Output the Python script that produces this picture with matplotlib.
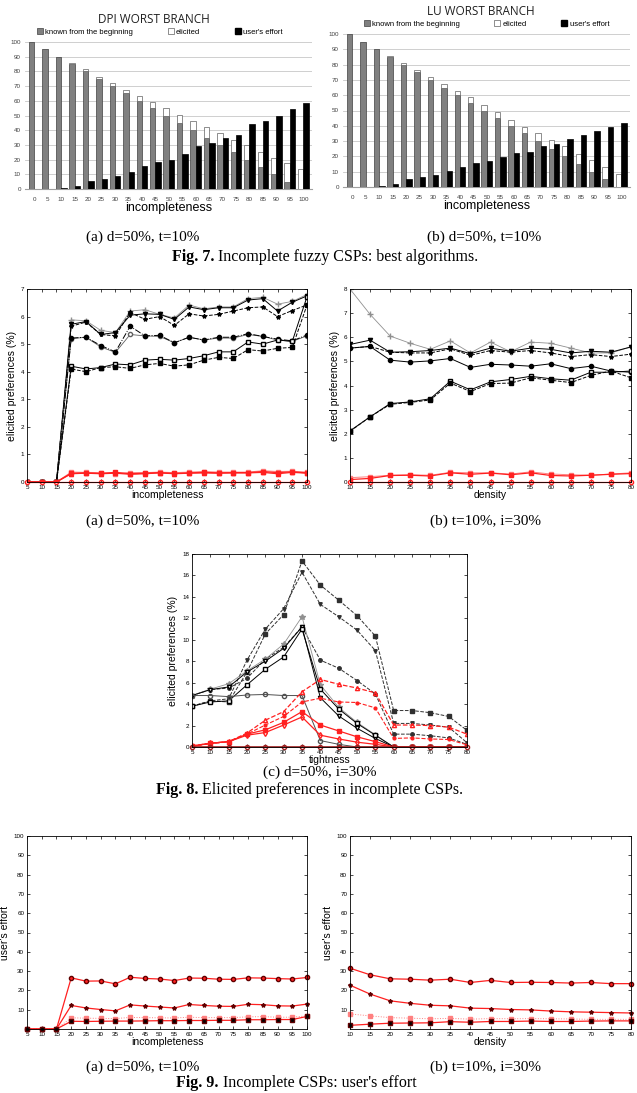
import numpy as np
import matplotlib
matplotlib.use("Agg")
import matplotlib.pyplot as plt
from matplotlib.patches import Patch

## Data
inc_bar = list(range(0, 105, 5))
dpi_known = [100, 95, 90, 85, 80, 75, 70, 65, 60, 55, 50, 45, 40, 35, 30, 25, 20, 15, 10, 5, 0]
dpi_elicited = [0, 0, 0, 0.5, 1.5, 1.5, 2, 2.5, 3.5, 4, 5, 5.5, 6.5, 7, 8, 8.5, 10, 10.5, 11, 12.5, 13.5]
dpi_effort = [0, 0.3, 1, 2, 5.5, 7, 9, 11.5, 15.5, 18.5, 20, 23.5, 29, 31.5, 34.5, 37, 44.5, 46.5, 49.5, 54.5, 58.5]
lu_known = dpi_known
lu_elicited = [0, 0, 0, 0.5, 1, 1.5, 2, 2.5, 2.5, 3.5, 3.5, 4, 4, 4.5, 5.5, 6, 6.5, 6.5, 7.5, 8, 8.5]
lu_effort = [0, 0, 0.7, 2, 5.5, 6.5, 8, 10.5, 13, 16, 17, 19.5, 22, 23, 26.5, 28, 31.5, 34, 36.5, 39, 42]

inc = list(range(5, 105, 5))
den = list(range(10, 85, 5))
tig = list(range(5, 85, 5))

# Fig 8a: elicited preferences vs incompleteness
e8a_plus = [0, 0, 0, 5.88, 5.85, 5.5, 5.42, 6.2, 6.25, 6.08, 5.95, 6.42, 6.28, 6.35, 6.35, 6.65, 6.7, 6.45, 6.55, 6.8]
e8a_tri = [0, 0, 0, 5.72, 5.82, 5.35, 5.42, 6.05, 6.1, 6.08, 5.9, 6.35, 6.25, 6.32, 6.32, 6.6, 6.65, 6.2, 6.52, 6.75]
e8a_star = [0, 0, 0, 5.65, 5.8, 5.35, 5.3, 6.15, 5.9, 6.0, 5.68, 6.1, 6.02, 6.08, 6.2, 6.32, 6.35, 6.0, 6.22, 6.42]
e8a_dot = [0, 0, 0, 5.22, 5.25, 4.95, 4.72, 5.65, 5.3, 5.32, 5.05, 5.25, 5.15, 5.25, 5.25, 5.38, 5.28, 5.18, 5.12, 5.33]
e8a_circ = [0, 0, 0, 5.2, 5.25, 4.9, 4.7, 5.35, 5.3, 5.28, 5.05, 5.25, 5.15, 5.22, 5.22, 5.35, 5.28, 5.15, 5.1, 5.3]
e8a_sqo = [0, 0, 0, 4.2, 4.1, 4.15, 4.28, 4.25, 4.42, 4.45, 4.42, 4.48, 4.58, 4.72, 4.72, 5.08, 5.0, 5.15, 5.1, 6.72]
e8a_sqf = [0, 0, 0, 4.1, 4.0, 4.15, 4.18, 4.12, 4.25, 4.3, 4.2, 4.25, 4.42, 4.52, 4.48, 4.8, 4.75, 4.85, 4.88, 6.42]
e8a_r1 = [0, 0, 0, 0.32, 0.33, 0.31, 0.35, 0.3, 0.32, 0.34, 0.31, 0.33, 0.35, 0.33, 0.34, 0.34, 0.38, 0.34, 0.37, 0.33]
e8a_r2 = [0, 0, 0, 0.3, 0.32, 0.3, 0.32, 0.28, 0.3, 0.33, 0.3, 0.32, 0.33, 0.32, 0.33, 0.33, 0.35, 0.3, 0.35, 0.32]
e8a_r3 = [0, 0, 0, 0.36, 0.35, 0.34, 0.3, 0.34, 0.34, 0.36, 0.34, 0.36, 0.38, 0.36, 0.36, 0.36, 0.41, 0.38, 0.39, 0.36]

# Fig 8b: elicited preferences vs density
e8b_plus = [8.0, 6.95, 6.05, 5.75, 5.5, 5.85, 5.35, 5.8, 5.4, 5.8, 5.75, 5.55, 5.35, 5.35, 5.6]
e8b_tri = [5.7, 5.88, 5.38, 5.4, 5.45, 5.55, 5.32, 5.55, 5.42, 5.55, 5.5, 5.35, 5.42, 5.38, 5.6]
e8b_star = [5.55, 5.62, 5.38, 5.35, 5.35, 5.52, 5.25, 5.45, 5.38, 5.45, 5.35, 5.2, 5.28, 5.2, 5.3]
e8b_dot = [5.55, 5.62, 5.05, 4.97, 5.02, 5.12, 4.75, 4.88, 4.85, 4.8, 4.9, 4.7, 4.8, 4.6, 4.55]
e8b_sqo = [2.12, 2.7, 3.25, 3.32, 3.45, 4.18, 3.82, 4.15, 4.25, 4.38, 4.28, 4.22, 4.55, 4.55, 4.6]
e8b_sqf = [2.1, 2.7, 3.22, 3.3, 3.4, 4.1, 3.75, 4.08, 4.1, 4.32, 4.22, 4.12, 4.42, 4.6, 4.32]
e8b_r1 = [0.1, 0.15, 0.27, 0.28, 0.25, 0.38, 0.32, 0.37, 0.3, 0.38, 0.27, 0.25, 0.28, 0.32, 0.35]
e8b_r2 = [0.18, 0.22, 0.28, 0.3, 0.28, 0.4, 0.38, 0.38, 0.33, 0.42, 0.33, 0.3, 0.28, 0.33, 0.38]

# Fig 8c: elicited preferences vs tightness
e8c_sqf = [3.8, 4.3, 4.2, 7.0, 10.55, 12.35, 17.35, 15.1, 13.7, 12.25, 10.35, 3.4, 3.4, 3.2, 2.85, 1.55]
e8c_trif = [3.8, 4.3, 4.5, 8.1, 11.0, 12.9, 16.3, 13.3, 12.15, 10.9, 9.0, 2.2, 2.2, 2.05, 1.85, 0.4]
e8c_dot = [4.8, 5.35, 5.5, 6.4, 8.2, 9.3, 11.2, 8.1, 7.35, 6.2, 4.95, 1.2, 1.2, 1.05, 0.85, 0.25]
e8c_plus = [4.8, 5.4, 5.9, 7.1, 8.2, 9.6, 12.15, 5.8, 3.7, 2.3, 1.15, 0, 0, 0, 0, 0]
e8c_trio = [4.8, 5.35, 5.6, 7.0, 8.0, 9.2, 11.2, 4.6, 2.9, 1.75, 0.8, 0, 0, 0, 0, 0]
e8c_sqo = [3.8, 4.2, 4.3, 5.8, 7.25, 8.4, 11.0, 5.4, 3.55, 2.2, 1.1, 0, 0, 0, 0, 0]
e8c_circ = [4.8, 4.8, 4.7, 4.85, 4.9, 4.8, 4.8, 0.6, 0.25, 0, 0, 0, 0, 0, 0, 0]
e8c_rtri = [0.1, 0.35, 0.5, 1.3, 2.5, 3.3, 5.15, 6.3, 5.85, 5.5, 5.05, 2.05, 2.05, 2.0, 1.85, 1.2]
e8c_rplus = [0.1, 0.3, 0.5, 1.2, 2.05, 2.85, 4.2, 4.55, 4.2, 4.15, 3.65, 0.8, 0.85, 0.75, 0.7, 0.2]
e8c_rsq = [0.1, 0.35, 0.5, 1.2, 1.6, 2.3, 3.3, 2.05, 1.5, 0.95, 0.5, 0, 0, 0, 0, 0]
e8c_rdia = [0.05, 0.35, 0.5, 1.1, 1.35, 2.05, 2.8, 1.1, 0.75, 0.45, 0.25, 0, 0, 0, 0, 0]

# Fig 9: user's effort
u9a_1 = [0, 0, 0, 26.5, 24.8, 24.9, 23.4, 26.8, 26.2, 25.9, 25.1, 26.4, 26.3, 25.8, 25.7, 26.5, 26.4, 26.1, 25.9, 26.7]
u9a_2 = [0, 0, 0, 12.2, 10.9, 10.1, 9.4, 12.5, 11.9, 11.4, 10.9, 12.7, 12.2, 11.8, 11.7, 12.8, 12.6, 12.0, 11.9, 12.9]
u9a_3 = [0, 0, 0, 5.8, 5.6, 5.5, 5.4, 6.0, 5.9, 5.8, 5.7, 6.1, 5.9, 5.9, 5.9, 6.3, 6.4, 6.1, 6.1, 6.8]
u9a_4 = [0, 0, 0, 4.0, 3.9, 4.0, 4.1, 4.1, 4.2, 4.3, 4.3, 4.4, 4.4, 4.5, 4.5, 4.8, 4.8, 4.9, 4.9, 6.5]
u9b_1 = [31.5, 28.1, 26.0, 25.8, 25.3, 25.8, 24.1, 25.2, 24.1, 24.2, 24.1, 23.8, 24.1, 23.5, 23.5]
u9b_2 = [22.7, 18.1, 14.6, 13.3, 12.3, 12.0, 10.8, 10.6, 10.1, 9.9, 9.3, 8.9, 8.7, 8.5, 8.3]
u9b_3 = [7.8, 6.8, 5.9, 5.6, 5.3, 5.5, 5.1, 5.4, 5.3, 5.4, 5.3, 5.2, 5.0, 5.0, 5.0]
u9b_4 = [1.9, 2.5, 3.0, 3.1, 3.2, 3.8, 3.5, 3.9, 3.9, 4.1, 3.9, 3.9, 4.1, 4.2, 4.2]

W, H = 637, 1093
fig = plt.figure(figsize=(W / 100, H / 100), dpi=100)
plt.rcParams['font.family'] = ['Liberation Sans', 'DejaVu Sans']
serif = ['Liberation Serif', 'DejaVu Serif']


def px_axes(l, t, r, b):
    return fig.add_axes([l / W, 1 - b / H, (r - l) / W, (b - t) / H])


def bar_chart(ax, title, known, elicited, effort, title_x, legend_x):
    x = np.arange(len(inc_bar))
    ax.bar(x - 0.2, known, 0.4, color='#808080', edgecolor='#404040', lw=0.5, zorder=3)
    ax.bar(x - 0.2, elicited, 0.4, bottom=known, color='white', edgecolor='#606060', lw=0.5, zorder=3)
    ax.bar(x + 0.2, effort, 0.4, color='black', edgecolor='black', lw=0.5, zorder=3)
    ax.set_xlim(-0.7, len(x) - 0.35)
    ax.set_ylim(0, 100)
    ax.set_yticks(range(0, 101, 10))
    ax.set_xticks(x)
    ax.set_xticklabels([str(v) for v in inc_bar])
    ax.yaxis.grid(True, color='#c8c8c8', lw=0.6, zorder=0)
    for s in ['top', 'right', 'left']:
        ax.spines[s].set_visible(False)
    ax.spines['bottom'].set_color('#a0a0a0')
    ax.tick_params(length=0, labelsize=4.5, colors='#404040', pad=3)
    ax.tick_params(axis='x', pad=6)
    ax.set_title(title, fontsize=8.5, family=['Open Sans', 'DejaVu Sans'], pad=14,
                 color='#202020', x=title_x)
    handles = [Patch(facecolor='#808080', edgecolor='#404040', lw=0.5),
               Patch(facecolor='white', edgecolor='#606060', lw=0.5),
               Patch(facecolor='black', edgecolor='black')]
    ax.legend(handles, ['known from the beginning', 'elicited', "user's effort"], ncol=3,
              loc='lower center', bbox_to_anchor=(legend_x, 1.02), frameon=False, fontsize=5.5,
              handlelength=0.8, handleheight=0.8, handletextpad=0.3, columnspacing=4.5,
              borderaxespad=0)
    ax.set_xlabel('incompleteness', fontsize=9, labelpad=0)


def gnu_axes(ax, xs, ymax, ystep, ylabel, xlabel, yticks_from=0):
    ax.set_xlim(xs[0], xs[-1])
    ax.set_ylim(0, ymax)
    ax.set_xticks(xs)
    ax.set_yticks(np.arange(yticks_from, ymax + 0.01, ystep))
    ax.tick_params(direction='in', top=True, right=True, length=2.5, width=0.5,
                   labelsize=4.5, pad=2)
    for s in ax.spines.values():
        s.set_linewidth(0.6)
    ax.set_ylabel(ylabel, fontsize=7.5, labelpad=3)
    ax.set_xlabel(xlabel, fontsize=7.5, labelpad=0.5)


# Fig 7
ax = px_axes(25, 42, 312, 189)
bar_chart(ax, 'DPI WORST BRANCH', dpi_known, dpi_elicited, dpi_effort, 0.45, 0.47)
ax = px_axes(343, 34, 630, 187)
bar_chart(ax, 'LU WORST BRANCH', lu_known, lu_elicited, lu_effort, 0.48, 0.5)

blk = dict(color='black', lw=0.7, ms=3)
gry = dict(color='#909090', lw=0.6, ms=4)
red = dict(color='#ff2020', lw=0.9, ms=3)
redl = dict(color='#ff8080', lw=0.7, ms=3)

# Fig 8a
ax = px_axes(27, 289, 307, 482)
ax.plot(inc, e8a_plus, marker='+', **gry)
ax.plot(inc, e8a_tri, marker='v', **blk)
ax.plot(inc, e8a_star, marker='*', ls='--', **blk)
ax.plot(inc, e8a_circ, marker='o', mfc='white', color='#606060', lw=0.6, ms=3)
ax.plot(inc, e8a_dot, marker='o', ls='-.', **blk)
ax.plot(inc, e8a_sqo, marker='s', mfc='white', **blk)
ax.plot(inc, e8a_sqf, marker='s', ls='--', **blk)
ax.plot(inc, e8a_r3, marker='s', mfc='none', **redl)
ax.plot(inc, e8a_r2, marker='^', **red)
ax.plot(inc, e8a_r1, marker='s', **red)
ax.plot(inc, np.zeros(len(inc)), marker='o', mfc='none', clip_on=False, **red)
gnu_axes(ax, inc, 7, 1, 'elicited preferences (%)', 'incompleteness')

# Fig 8b
ax = px_axes(350, 289, 631, 482)
ax.plot(den, e8b_plus, marker='+', **gry)
ax.plot(den, e8b_tri, marker='v', **blk)
ax.plot(den, e8b_star, marker='*', ls='--', **blk)
ax.plot(den, e8b_dot, marker='o', **blk)
ax.plot(den, e8b_sqo, marker='s', mfc='white', **blk)
ax.plot(den, e8b_sqf, marker='s', ls='--', **blk)
ax.plot(den, e8b_r2, marker='s', mfc='none', **redl)
ax.plot(den, e8b_r1, marker='s', **red)
ax.plot(den, np.zeros(len(den)), marker='o', mfc='none', clip_on=False, **red)
gnu_axes(ax, den, 8, 1, 'elicited preferences (%)', 'density')

# Fig 8c
ax = px_axes(192, 554, 467, 747)
ax.plot(tig, e8c_sqf, marker='s', ls='--', color='#303030', lw=0.7, ms=3.5)
ax.plot(tig, e8c_trif, marker='v', ls='--', color='#303030', lw=0.7, ms=2.5)
ax.plot(tig, e8c_dot, marker='o', ls='--', color='#303030', lw=0.7, ms=2.5)
ax.plot(tig, e8c_plus, marker='*', **gry)
ax.plot(tig, e8c_trio, marker='v', mfc='white', **blk)
ax.plot(tig, e8c_sqo, marker='s', mfc='white', **blk)
ax.plot(tig, e8c_circ, marker='o', mfc='none', color='#505050', lw=0.7, ms=3)
ax.plot(tig, e8c_rtri, marker='^', ls='--', mfc='none', **red)
ax.plot(tig, e8c_rplus, marker='o', ls='--', color='#ff2020', lw=0.8, ms=2)
ax.plot(tig, e8c_rsq, marker='s', **red)
ax.plot(tig, e8c_rdia, marker='d', mfc='none', **red)
ax.plot(tig, np.zeros(len(tig)), marker='o', mfc='none', clip_on=False, color='#a02020', lw=1.2, ms=3)
gnu_axes(ax, tig, 18, 2, 'elicited preferences (%)', 'tightness')

# Fig 9a
ax = px_axes(27, 836, 307, 1029)
ax.plot(inc, u9a_1, marker='o', mec='#600000', clip_on=False, **red)
ax.plot(inc, u9a_2, marker='*', mec='#600000', clip_on=False, **red)
ax.plot(inc, u9a_3, marker='s', ls=':', clip_on=False, **redl)
ax.plot(inc, u9a_4, marker='s', mfc='black', mec='#600000', clip_on=False, **red)
gnu_axes(ax, inc, 100, 10, "user's effort", 'incompleteness', yticks_from=10)

# Fig 9b
ax = px_axes(350, 836, 631, 1029)
ax.plot(den, u9b_1, marker='o', mec='#600000', clip_on=False, **red)
ax.plot(den, u9b_2, marker='*', mec='#600000', clip_on=False, **red)
ax.plot(den, u9b_3, marker='s', ls=':', clip_on=False, **redl)
ax.plot(den, u9b_4, marker='s', mfc='black', mec='#600000', clip_on=False, **red)
gnu_axes(ax, den, 100, 10, "user's effort", 'density', yticks_from=10)


# Captions
def cap(x, y, s, **kw):
    fig.text(x / W, 1 - y / H, s, family=serif, fontsize=11, va='center', **kw)


def figcap(x0, y, bold, rest):
    fig.text(x0 / W, 1 - y / H, bold, family=serif, fontsize=11.5, weight='bold', va='center', ha='right')
    fig.text(x0 / W, 1 - y / H, ' ' + rest, family=serif, fontsize=11.5, va='center', ha='left')


cap(143, 237, '(a) d=50%, t=10%', ha='center')
cap(484, 237, '(b) d=50%, t=10%', ha='center')
figcap(214, 257, 'Fig. 7.', 'Incomplete fuzzy CSPs: best algorithms.')
cap(143, 521, '(a) d=50%, t=10%', ha='center')
cap(486, 521, '(b) t=10%, i=30%', ha='center')
cap(320, 772, '(c) d=50%, i=30%', ha='center')
figcap(198, 790, 'Fig. 8.', 'Elicited preferences in incomplete CSPs.')
cap(143, 1067, '(a) d=50%, t=10%', ha='center')
cap(486, 1067, '(b) t=10%, i=30%', ha='center')
figcap(219, 1083, 'Fig. 9.', "Incomplete CSPs: user's effort")

fig.savefig('out.png', dpi=100)
